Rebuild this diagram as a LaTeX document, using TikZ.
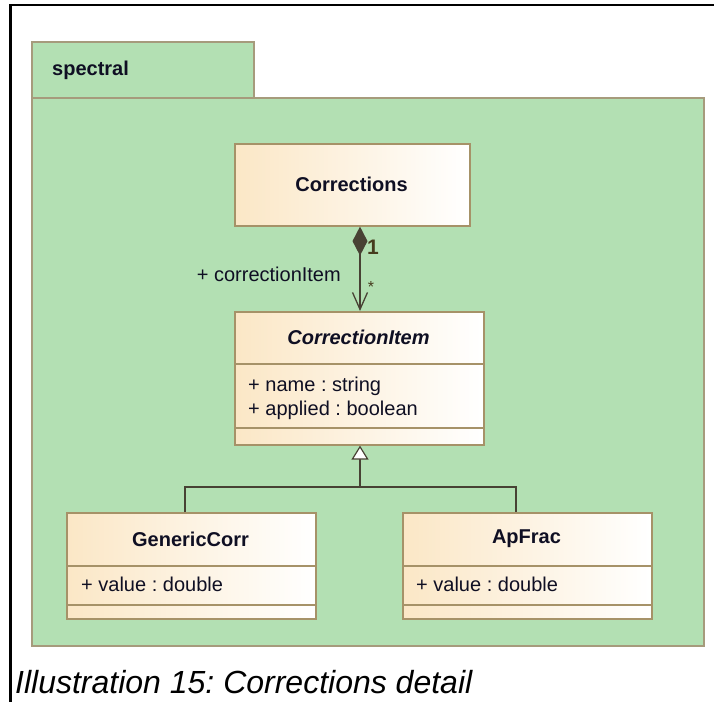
\documentclass[tikz,border=0pt]{standalone}
\usepackage{fontspec}
\setmainfont{Liberation Sans}
\usetikzlibrary{arrows.meta}
\frenchspacing
\definecolor{pkgfill}{RGB}{179,224,179}
\definecolor{pkgline}{RGB}{166,155,124}
\definecolor{clsL}{RGB}{251,231,198}
\definecolor{clsline}{RGB}{166,146,104}
\definecolor{conn}{RGB}{72,66,52}
\definecolor{txt}{RGB}{15,15,35}
\definecolor{mult}{RGB}{70,60,30}
\begin{document}
\begin{tikzpicture}[x=1pt,y=-1pt,
  pkg/.style={draw=pkgline, fill=pkgfill, line width=1.8pt},
  cls/.style={draw=clsline, line width=1.6pt, left color=clsL, right color=white,
    inner sep=0pt, anchor=north west, minimum width=249pt},
  divider/.style={draw=clsline, line width=1.6pt},
  cname/.style={font=\fontsize{20}{24}\selectfont\bfseries, text=txt, inner sep=0pt},
  attr/.style={font=\fontsize{20}{24}\selectfont, text=txt, inner sep=0pt, anchor=base west},
  lbl/.style={font=\fontsize{20}{24}\selectfont, text=txt, inner sep=0pt},
  assoc/.style={draw=conn, line width=1.3pt},
  gen/.style={draw=conn, line width=1.3pt},
]
\useasboundingbox (0,0) rectangle (714,702);
% outer frame
\draw[black, line width=2.4pt] (714,5) -- (10.5,5) -- (10.5,702);
% package
\draw[pkg] (32,42) rectangle (254,98);
\draw[pkg] (32,98) rectangle (704,646);
\node[font=\fontsize{20}{24}\selectfont\bfseries, text=txt, inner sep=0pt, anchor=base west] (pkgname) at (52,75) {spectral};

% Corrections
\node[cls, minimum width=235pt, minimum height=82pt] (cor) at (234,143) {};
\node[cname] (corn) at (351.5,184) {Corrections};

% CorrectionItem
\node[cls, minimum height=133pt] (ci) at (234,311) {};
\node[cname, font=\fontsize{20}{24}\selectfont\bfseries\itshape] (cin) at (358.5,337.5) {CorrectionItem};
\draw[divider] (ci.west |- 0,364) -- (ci.east |- 0,364);
\draw[divider] (ci.west |- 0,428) -- (ci.east |- 0,428);
\node[attr] (cia1) at (248,391) {+ name : string};
\node[attr] (cia2) at (248,415) {+ applied : boolean};

% GenericCorr
\node[cls, minimum height=106pt] (gc) at (66,512) {};
\node[cname] (gcn) at (190.5,539) {GenericCorr};
\draw[divider] (gc.west |- 0,566) -- (gc.east |- 0,566);
\draw[divider] (gc.west |- 0,605) -- (gc.east |- 0,605);
\node[attr] (gca) at (81,591) {+ value : double};

% ApFrac
\node[cls, minimum height=106pt] (ap) at (402,512) {};
\node[cname] (apn) at (526.5,539) {ApFrac};
\draw[divider] (ap.west |- 0,566) -- (ap.east |- 0,566);
\draw[divider] (ap.west |- 0,605) -- (ap.east |- 0,605);
\node[attr] (apa) at (416,591) {+ value : double};

% composition
\draw[assoc, {Diamond[length=29pt,width=15pt,fill=conn]}-{Straight Barb[length=17pt,width=15pt,line width=1.3pt]}]
  (cor.south -| 360,0) -- (ci.north -| 360,0);
\node[lbl, font=\fontsize{21}{24}\selectfont\bfseries, text=mult] (m1) at (373,247) {1};
\node[lbl, font=\fontsize{16}{18}\selectfont, text=mult] (m2) at (371,287) {*};
\node[lbl, anchor=base east] (role) at (341,281) {+ correctionItem};

% generalization
\coordinate (jn) at (360,487);
\draw[gen] (gc.north -| 185,0) |- (jn) -| (ap.north -| 516,0);
\draw[gen, -{Triangle[length=14pt,width=17pt,fill=white,line width=1.2pt]}] (jn) -- (ci.south -| jn);

% caption
\node[font=\fontsize{32}{36}\selectfont\itshape, text=black, inner sep=0pt, anchor=base west] (cap) at (15,693) {Illustration 15: Corrections detail};
\end{tikzpicture}
\end{document}
